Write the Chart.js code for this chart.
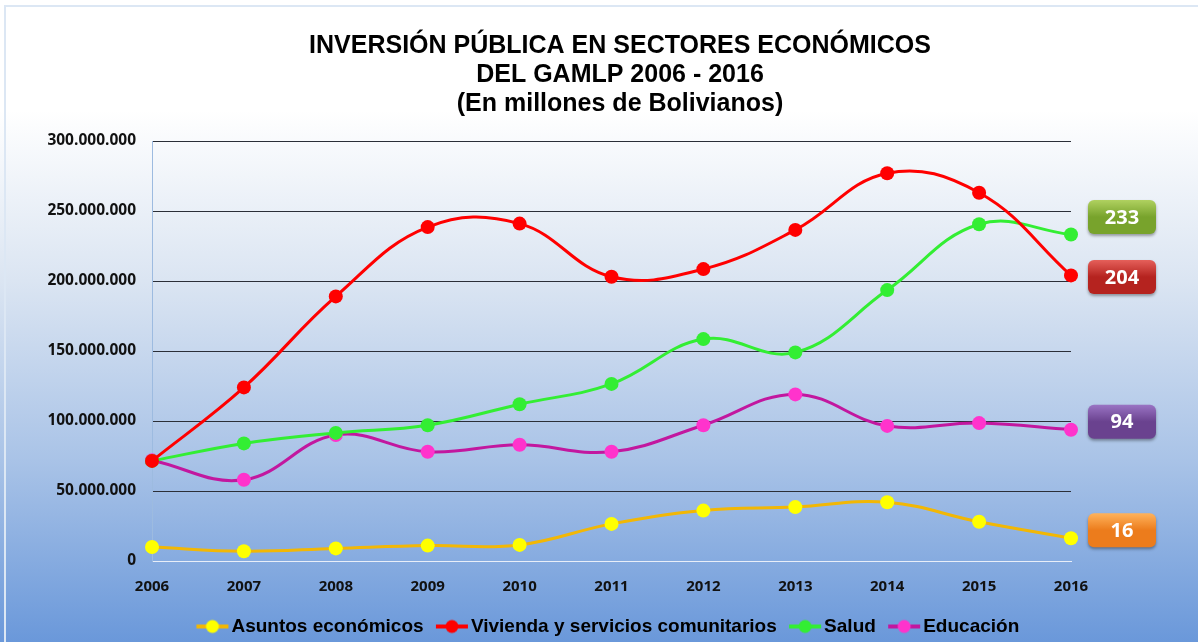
<!DOCTYPE html>
<html>
<head>
<meta charset="utf-8">
<script src="https://cdn.jsdelivr.net/npm/chart.js@4/dist/chart.umd.min.js"></script>
<style>
  html, body { margin: 0; padding: 0; background: #ffffff; }
  #wrap {
    position: relative;
    width: 1198px;
    height: 642px;
    background: linear-gradient(to bottom, #ffffff 0px, #ffffff 110px, #dbe5f2 280px, #a9c3e7 460px, #6a98da 642px);
  }
  #frame {
    position: absolute; left: 4px; top: 5px; right: 0; bottom: 0;
    border-left: 2px solid #dce7f4; border-top: 2px solid #dce7f4;
    pointer-events: none;
  }
  canvas { position: absolute; left: 0; top: 0; }
</style>
</head>
<body>
<div id="wrap">
  <div id="frame"></div>
  <canvas id="chart" width="1198" height="642"></canvas>
</div>
<script>
// Chart data
const YEARS = ['2006', '2007', '2008', '2009', '2010', '2011', '2012', '2013', '2014', '2015', '2016'];
const ASUNTOS = [10e6, 7e6, 9e6, 11e6, 11.5e6, 26.5e6, 36e6, 38.5e6, 42e6, 28e6, 16.3e6];
const VIVIENDA = [71.5e6, 124e6, 189e6, 238.5e6, 241e6, 203e6, 208.5e6, 236.5e6, 277e6, 263e6, 204e6];
const SALUD = [71.5e6, 84e6, 91.5e6, 97e6, 112e6, 126.5e6, 158.5e6, 149e6, 193.5e6, 240.5e6, 233.2e6];
const EDUCACION = [72e6, 58e6, 90e6, 78e6, 83e6, 78e6, 97e6, 119e6, 96.5e6, 98.5e6, 93.8e6];
const Y_TICKS = [0, 50e6, 100e6, 150e6, 200e6, 250e6, 300e6];

const TITLE_LINES = ['INVERSIÓN PÚBLICA EN SECTORES ECONÓMICOS', 'DEL GAMLP 2006 - 2016', '(En millones de Bolivianos)'];

// Colours for the end-of-line value boxes
const BOX_COLORS = {
    'Asuntos económicos': ['#ffb35c', '#ec7c1c'],
    'Vivienda y servicios comunitarios': ['#e5605a', '#b5231f'],
    'Salud': ['#b0d160', '#78a32c'],
    'Educación': ['#9a74c4', '#6a428f']
};

// Legend icon: short line with a dot in the middle
function legendIcon(lineColor, dotColor) {
    const c = document.createElement('canvas');
    c.width = 34; c.height = 16;
    const ctx = c.getContext('2d');
    ctx.strokeStyle = lineColor;
    ctx.lineWidth = 4;
    ctx.beginPath();
    ctx.moveTo(1, 8);
    ctx.lineTo(33, 8);
    ctx.stroke();
    ctx.fillStyle = dotColor;
    ctx.beginPath();
    ctx.arc(17, 8, 6.5, 0, Math.PI * 2);
    ctx.fill();
    return c;
}

function makeSeries(label, data, lineColor, dotColor) {
    return {
        label: label,
        data: data,
        borderColor: lineColor,
        backgroundColor: dotColor,
        pointBackgroundColor: dotColor,
        pointBorderColor: dotColor,
        pointRadius: 7,
        pointBorderWidth: 0,
        borderWidth: 3,
        tension: 0.4,
        fill: false,
        icon: legendIcon(lineColor, dotColor)
    };
}

function formatMillions(value) {
    return Math.round(value).toString().replace(/\B(?=(\d{3})+(?!\d))/g, '.');
}

// Title drawn by hand so it can sit off-centre like the original
const titleBlock = {
    id: 'titleBlock',
    afterDraw(chart) {
        const ctx = chart.ctx;
        ctx.save();
        ctx.fillStyle = '#000000';
        ctx.font = 'bold 25px "Liberation Sans", Arial, sans-serif';
        ctx.textAlign = 'center';
        ctx.textBaseline = 'middle';
        TITLE_LINES.forEach((line, i) => {
            ctx.fillText(line, 620, 46 + i * 29);
        });
        ctx.restore();
    }
};

// Keep the legend band short so the plot reaches down like the original
const legendFit = {
    id: 'legendFit',
    afterInit(chart) {
        const lg = chart.legend;
        if (!lg) return;
        const fit = lg.fit.bind(lg);
        lg.fit = function() {
            fit();
            this.height = 28;
        };
    }
};

// Draw the rounded value boxes to the right of the last points
const endLabels = {
    id: 'endLabels',
    afterDatasetsDraw(chart) {
        const ctx = chart.ctx;
        const area = chart.chartArea;
        const boxW = 68, boxH = 34, gap = 60;
        const items = chart.data.datasets.map((ds, i) => {
            const meta = chart.getDatasetMeta(i);
            const pt = meta.data[meta.data.length - 1];
            const val = ds.data[ds.data.length - 1];
            return { y: pt.y - 8, text: String(Math.round(val / 1e6)), colors: BOX_COLORS[ds.label] };
        }).sort((a, b) => a.y - b.y);

        // push overlapping boxes apart
        for (let pass = 0; pass < 5; pass++) {
            for (let i = 1; i < items.length; i++) {
                const d = items[i].y - items[i - 1].y;
                if (d < gap) {
                    const shift = (gap - d) / 2;
                    items[i - 1].y -= shift;
                    items[i].y += shift;
                }
            }
        }

        const x = area.right + 17;
        items.forEach(it => {
            const top = it.y - boxH / 2;
            ctx.save();
            ctx.shadowColor = 'rgba(0,0,0,0.35)';
            ctx.shadowBlur = 3;
            ctx.shadowOffsetY = 2;
            const g = ctx.createLinearGradient(0, top, 0, top + boxH);
            g.addColorStop(0, it.colors[0]);
            g.addColorStop(0.5, it.colors[1]);
            g.addColorStop(1, it.colors[1]);
            ctx.fillStyle = g;
            ctx.beginPath();
            ctx.roundRect(x, top, boxW, boxH, 6);
            ctx.fill();
            ctx.restore();
            ctx.save();
            ctx.fillStyle = '#ffffff';
            ctx.font = 'bold 20px "Open Sans", Arial, sans-serif';
            ctx.textAlign = 'center';
            ctx.textBaseline = 'middle';
            ctx.fillText(it.text, x + boxW / 2, it.y + 1);
            ctx.restore();
        });
    }
};

const chartCtx = document.getElementById('chart').getContext('2d');

const investmentChart = new Chart(chartCtx, {
    type: 'line',
    data: {
        labels: YEARS,
        datasets: [
            makeSeries('Asuntos económicos', ASUNTOS, '#f2b705', '#ffff00'),
            makeSeries('Vivienda y servicios comunitarios', VIVIENDA, '#ff0000', '#ff0000'),
            makeSeries('Salud', SALUD, '#33ee33', '#33ee33'),
            makeSeries('Educación', EDUCACION, '#c2179f', '#ff33cc')
        ]
    },
    options: {
        responsive: false,
        animation: false,
        layout: {
            padding: { left: 40, right: 0, top: 141, bottom: 0 }
        },
        plugins: {
            title: { display: false },
            legend: {
                position: 'bottom',
                labels: {
                    usePointStyle: true,
                    color: '#000000',
                    padding: 3,
                    font: { family: '"Liberation Sans Narrow", "Arial Narrow", "Liberation Sans", sans-serif', size: 19, weight: 'bold', lineHeight: 1.0 },
                    generateLabels(chart) {
                        return chart.data.datasets.map((ds, i) => ({
                            // trailing spaces widen the gap to the next item
                            text: ds.label + '   ',
                            fillStyle: ds.backgroundColor,
                            strokeStyle: ds.borderColor,
                            pointStyle: ds.icon,
                            fontColor: '#000000',
                            lineWidth: 0,
                            hidden: false,
                            datasetIndex: i
                        }));
                    }
                }
            },
            tooltip: { enabled: false }
        },
        scales: {
            x: {
                offset: false,
                grid: { display: false, drawTicks: false },
                border: { color: '#e8eef8', width: 1 },
                ticks: {
                    color: '#111111',
                    padding: 17,
                    maxRotation: 0,
                    font: { family: '"Open Sans", Arial, sans-serif', size: 15, weight: 'bold' }
                },
                afterFit(axis) {
                    axis.height = 53;
                }
            },
            y: {
                min: 0,
                max: 300e6,
                afterBuildTicks(axis) {
                    axis.ticks = Y_TICKS.map(v => ({ value: v }));
                },
                afterFit(axis) {
                    axis.width = 112;
                },
                grid: { color: '#2b2f38', lineWidth: 1, drawTicks: false },
                border: { color: '#9dbbe0', width: 1 },
                ticks: {
                    color: '#111111',
                    padding: 16,
                    font: { family: '"Open Sans", Arial, sans-serif', size: 15.5, weight: 'bold' },
                    callback: function(value) {
                        return formatMillions(value);
                    }
                }
            },
            // empty right-hand axis that only reserves room for the value boxes
            yRight: {
                position: 'right',
                min: 0,
                max: 300e6,
                grid: { drawOnChartArea: false, drawTicks: false },
                border: { display: false },
                ticks: { display: false },
                afterFit(axis) {
                    axis.width = 127;
                }
            }
        }
    },
    plugins: [legendFit, endLabels, titleBlock]
});
</script>
</body>
</html>
